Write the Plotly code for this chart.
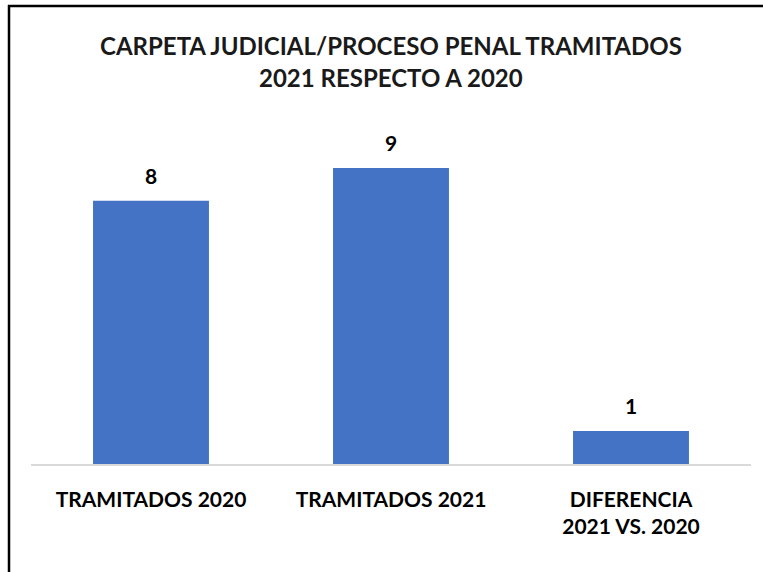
import plotly.graph_objects as go

categories = ["TRAMITADOS 2020", "TRAMITADOS 2021", "DIFERENCIA<br>2021 VS. 2020"]
values = [8, 9, 1]
title_lines = ["CARPETA JUDICIAL/PROCESO PENAL TRAMITADOS", "2021 RESPECTO A 2020"]

FONT = "Lato"
W, H = 763, 572
ml, mr, mt, mb = 31, 12, 135, 108
pw, ph = W - ml - mr, H - mt - mb
ymax = 10


def px_x(x):
    return (x - ml) / pw


def px_y(y):
    return (H - mb - y) / ph


fig = go.Figure(go.Bar(
    x=categories, y=values, marker=dict(color="#4472C4", line=dict(width=0)),
    width=0.483, hoverinfo="skip"))

annotations = []
for c, v in zip(categories, values):
    annotations.append(dict(x=c, y=v, xref="x", yref="y", text=f"<b>{v}</b>",
                            showarrow=False, yanchor="bottom", yshift=11,
                            font=dict(family=FONT, size=21, color="#000000")))
for i, t in enumerate(title_lines):
    annotations.append(dict(x=0.5, xref="paper", y=px_y(45.5 + 32 * i), yref="paper",
                            text=f"<b>{t}</b>", showarrow=False, yanchor="middle",
                            font=dict(family=FONT, size=24, color="#1a1a1a")))

shapes = [
    dict(type="line", xref="paper", yref="paper", x0=px_x(9), x1=px_x(9), y0=px_y(5), y1=px_y(580),
         line=dict(color="#000000", width=2.5)),
    dict(type="line", xref="paper", yref="paper", x0=px_x(8), x1=px_x(770), y0=px_y(6), y1=px_y(6),
         line=dict(color="#000000", width=2.5)),
]

fig.update_layout(
    width=W, height=H, margin=dict(l=ml, r=mr, t=mt, b=mb),
    paper_bgcolor="white", plot_bgcolor="white", showlegend=False,
    annotations=annotations, shapes=shapes,
    xaxis=dict(showline=True, linecolor="#D9D9D9", linewidth=1.5, showgrid=False,
               ticks="outside", ticklen=16, tickcolor="rgba(0,0,0,0)",
               tickfont=dict(family=FONT, size=21, color="#000000"), fixedrange=True),
    yaxis=dict(range=[0, ymax], visible=False, fixedrange=True),
)
fig.update_xaxes(ticktext=[f"<b>{c}</b>" for c in categories], tickvals=categories)

fig.write_html("out.html", config={"displayModeBar": False},
               post_script="document.body.style.margin='0';")
